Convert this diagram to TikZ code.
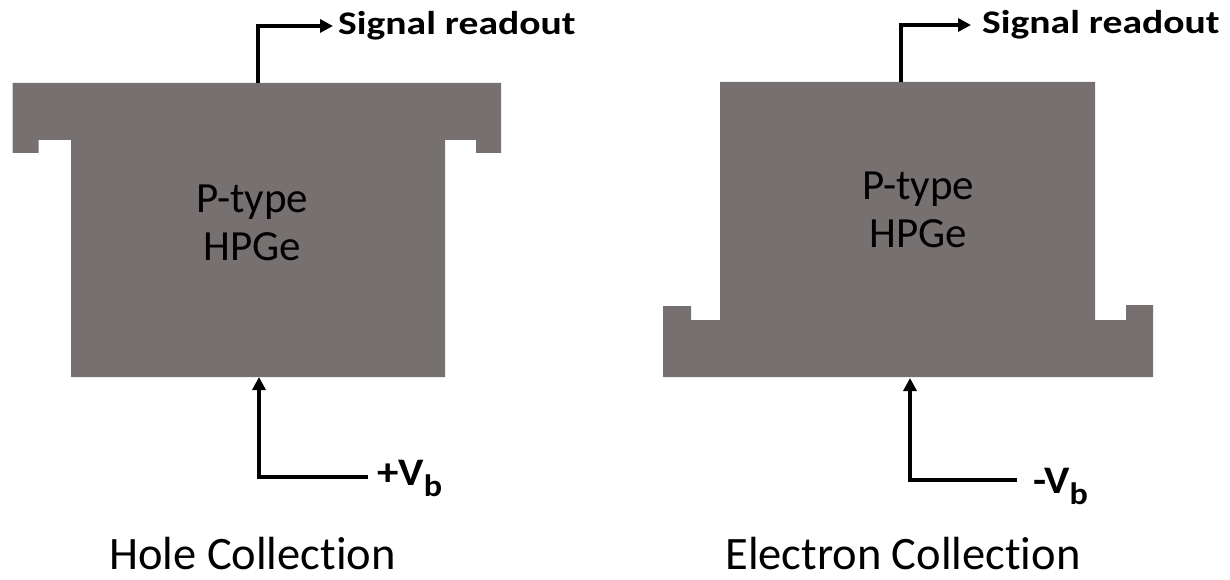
\documentclass[tikz,border=0pt]{standalone}
\usepackage{fontspec}
\setmainfont[Ligatures=NoCommon]{Carlito}
\usetikzlibrary{arrows.meta}
\definecolor{ge}{RGB}{118,112,112}
\tikzset{
  crystal/.style={fill=ge, draw=none},
  wire/.style={line width=4pt, -{Triangle[length=13pt,width=13pt]}},
  inlabel/.style={inner sep=0pt, align=center, font=\fontsize{43}{48}\selectfont},
  caption/.style={inner sep=0pt, anchor=base, font=\fontsize{46.5}{50}\selectfont},
  tag/.style={inner sep=0pt, anchor=base west},
}
\newcommand{\sigtext}{\scalebox{1.2}[1]{\bfseries\fontsize{33}{33}\selectfont Signal readout}}
\newcommand{\biastext}[1]{\scalebox{1.1}[1]{\bfseries\fontsize{39}{39}\selectfont #1V\raisebox{-11pt}{\fontsize{31}{31}\selectfont b}}}
\begin{document}
\begin{tikzpicture}[x=1pt,y=-1pt]
\useasboundingbox (0,0) rectangle (1230,580);
% left crystal (hole collection)
\fill[crystal] (12.7,83) -- (501,83) -- (501,153) -- (476,153) -- (476,140) -- (445,140)
  -- (445,377) -- (71,377) -- (71,140) -- (38.5,140) -- (38.5,153) -- (12.7,153) -- cycle;
% right crystal (electron collection)
\fill[crystal] (720,82) -- (1095,82) -- (1095,320) -- (1126,320) -- (1126,305) -- (1153,305)
  -- (1153,377) -- (663,377) -- (663,306) -- (691,306) -- (691,320) -- (720,320) -- cycle;

% labels inside
\node[inlabel, anchor=base] (ltype) at (252,212) {P-type};
\node[inlabel, anchor=base] (lge) at (252,260) {HPGe};
\node[inlabel, anchor=base] (rtype) at (918,199) {P-type};
\node[inlabel, anchor=base] (rge) at (918,247) {HPGe};

% signal readout
\node[tag] (lsig) at (338,35) {\sigtext};
\node[tag] (rsig) at (982,34) {\sigtext};
\coordinate (ltop) at (258,83);
\coordinate (lcorner) at (258,26);
\coordinate (rtop) at (901,82);
\coordinate (rcorner) at (901,25);
\draw[wire] (ltop) -- (lcorner) -- ([xshift=-5pt]lsig.west |- lcorner);
\draw[wire] (rtop) -- (rcorner) -- ([xshift=-11pt]rsig.west |- rcorner);

% bias
\node[tag] (lbias) at (377,485) {\biastext{+}};
\node[tag] (rbias) at (1033,493) {\biastext{-}};
\coordinate (lbot) at (259,377);
\coordinate (lbcorner) at (259,477);
\coordinate (rbot) at (910,378);
\coordinate (rbcorner) at (910,480);
\path (lbias.west |- lbcorner) ++(-9pt,0) coordinate (lbend);
\draw[wire] (lbend) -- (lbcorner) -- (lbot);
\path (rbias.west |- rbcorner) ++(-16pt,0) coordinate (rbend);
\draw[wire] (rbend) -- (rbcorner) -- (rbot);

% captions
\node[caption] (lcap) at (252.5,569) {Hole Collection};
\node[caption] (rcap) at (903,569) {Electron Collection};
\end{tikzpicture}
\end{document}
